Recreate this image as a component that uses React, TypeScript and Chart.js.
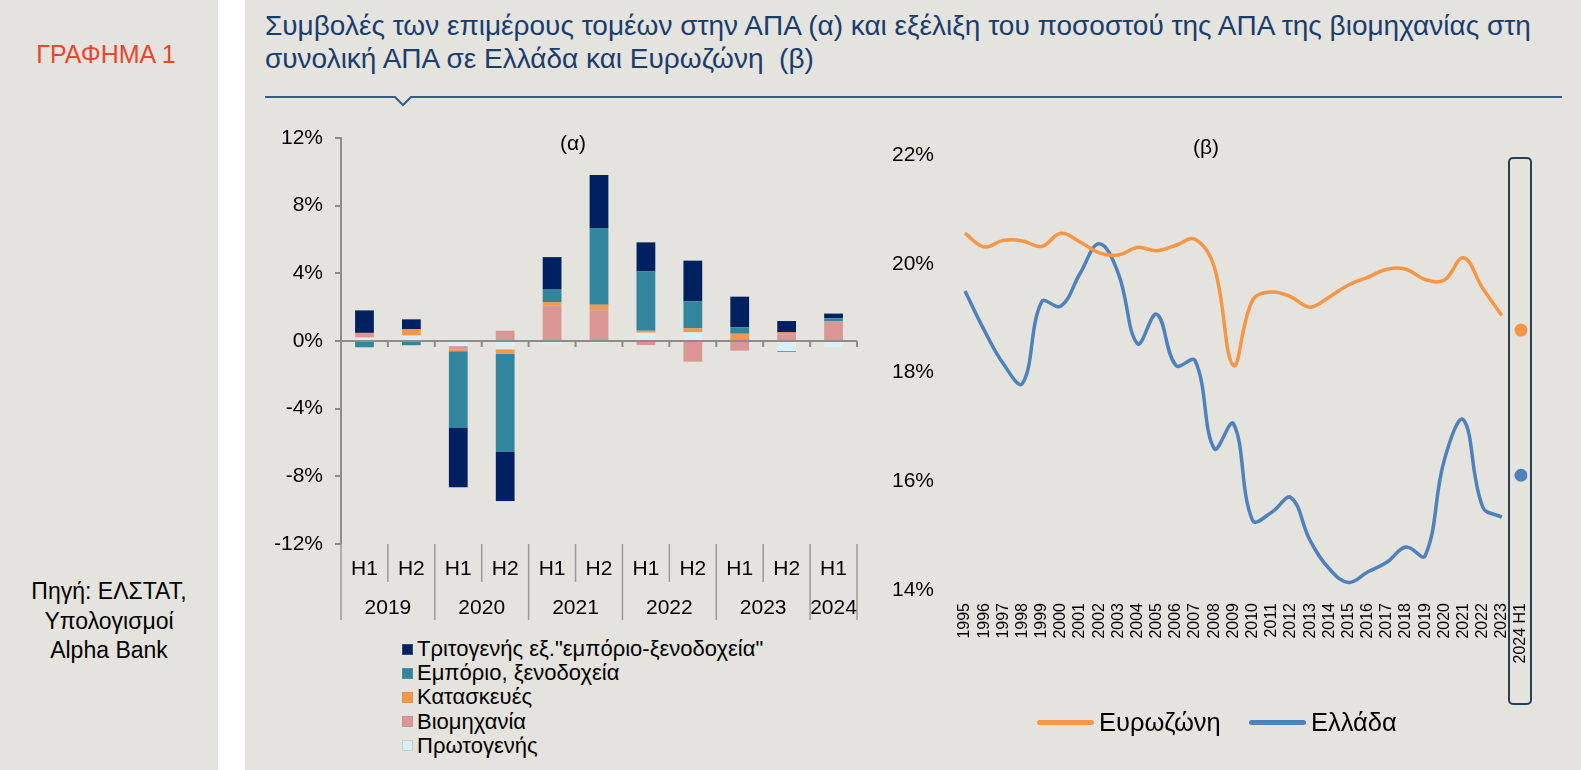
import React, { useEffect, useRef } from 'react';
import { Chart, registerables } from 'chart.js';

Chart.register(...registerables);

const FONT = '"Liberation Sans", Arial, Helvetica, sans-serif';
const BG = '#e4e3de';

// ---------- Chart (α): contributions ----------
const halfYearLabels = ['H1', 'H2', 'H1', 'H2', 'H1', 'H2', 'H1', 'H2', 'H1', 'H2', 'H1'];
const yearLabels = ['2019', '2020', '2021', '2022', '2023', '2024'];
const yearSpans = [2, 2, 2, 2, 2, 1];
const leftTicks = [-12, -8, -4, 0, 4, 8, 12];

const sectorLabels = [
  'Πρωτογενής',
  'Βιομηχανία',
  'Κατασκευές',
  'Εμπόριο, ξενοδοχεία',
  'Τριτογενής εξ."εμπόριο-ξενοδοχεία"',
];
const sectorColors = ['#dbeef4', '#d99694', '#f79646', '#31859c', '#002060'];

const primarySector = [0.2, 0.32, -0.3, -0.49, -0.2, -0.12, 0.49, 0.51, 0, -0.6, -0.37];
const industry = [0.28, 0, -0.22, 0.61, 2.1, 1.81, -0.24, -1.22, -0.57, 0.39, 1.16];
const construction = [0, 0.37, -0.08, -0.26, 0.18, 0.34, 0.12, 0.24, 0.43, 0.12, 0];
const tradeHotels = [-0.37, -0.25, -4.55, -5.81, 0.76, 4.53, 3.51, 1.59, 0.38, -0.05, 0.18];
const otherServices = [1.33, 0.59, -3.49, -2.9, 1.92, 3.13, 1.71, 2.41, 1.81, 0.67, 0.28];
const sectorSeries = [primarySector, industry, construction, tradeHotels, otherServices];

// ---------- Chart (β): industry share of GVA ----------
const yearCats = [
  '1995', '1996', '1997', '1998', '1999', '2000', '2001', '2002', '2003', '2004',
  '2005', '2006', '2007', '2008', '2009', '2010', '2011', '2012', '2013', '2014',
  '2015', '2016', '2017', '2018', '2019', '2020', '2021', '2022', '2023', '2024 H1',
];
const eurozoneShare = [
  20.56, 20.31, 20.43, 20.42, 20.32, 20.56, 20.4, 20.2, 20.16, 20.3,
  20.24, 20.34, 20.45, 19.94, 18.13, 19.33, 19.48, 19.39, 19.2, 19.39,
  19.61, 19.75, 19.9, 19.9, 19.71, 19.7, 20.11, 19.55, 19.05,
];
const greeceShare = [
  19.5, 18.78, 18.16, 17.8, 19.3, 19.22, 19.82, 20.37, 19.82, 18.53,
  19.07, 18.13, 18.22, 16.6, 17.06, 15.28, 15.43, 15.7, 14.91, 14.39,
  14.14, 14.33, 14.51, 14.79, 14.63, 16.39, 17.13, 15.53, 15.34,
];
const eurozoneH1 = 18.78;
const greeceH1 = 16.11;
const rightTicks = [14, 16, 18, 20, 22];
const lineLabels = ['Ευρωζώνη', 'Ελλάδα'];
const lineColors = ['#f79646', '#4f81bd'];

const leftDecor = {
  id: 'leftDecor',
  afterDatasetsDraw(chart: any) {
    const { ctx, chartArea: ca, scales } = chart;
    const xs = scales.x;
    const ys = scales.y;
    const y0 = ys.getPixelForValue(0);
    const step = xs.getPixelForValue(1) - xs.getPixelForValue(0);
    const n = halfYearLabels.length;
    const bound = (i: number) => xs.getPixelForValue(0) - step / 2 + i * step;
    ctx.save();
    ctx.strokeStyle = '#8c8c8c';
    ctx.lineWidth = 2;
    ctx.beginPath();
    ctx.moveTo(ca.left, y0);
    ctx.lineTo(bound(n), y0);
    for (let i = 1; i <= n; i++) {
      ctx.moveTo(bound(i), y0);
      ctx.lineTo(bound(i), y0 + 6);
    }
    ctx.stroke();

    const top = ca.bottom;
    ctx.lineWidth = 1.5;
    ctx.strokeStyle = '#9a9a9a';
    ctx.beginPath();
    for (let i = 1; i < n; i++) {
      ctx.moveTo(bound(i), top);
      ctx.lineTo(bound(i), top + 38);
    }
    const yb = [0];
    let acc = 0;
    yearSpans.forEach((s) => {
      acc += s;
      yb.push(acc);
    });
    yb.forEach((k) => {
      ctx.moveTo(bound(k), top);
      ctx.lineTo(bound(k), top + 76);
    });
    ctx.stroke();

    ctx.fillStyle = '#000';
    ctx.font = `21px ${FONT}`;
    ctx.textAlign = 'center';
    ctx.textBaseline = 'middle';
    halfYearLabels.forEach((l, i) => ctx.fillText(l, xs.getPixelForValue(i), top + 25));
    yearLabels.forEach((l, g) => ctx.fillText(l, (bound(yb[g]) + bound(yb[g + 1])) / 2, top + 64));
    ctx.restore();
  },
};

const rightDecor = {
  id: 'rightDecor',
  beforeDatasetsDraw(chart: any) {
    const { ctx, scales } = chart;
    const xs = scales.x;
    const x = xs.getPixelForValue(yearCats.length - 1);
    ctx.save();
    ctx.strokeStyle = '#2b3c57';
    ctx.lineWidth = 2;
    ctx.beginPath();
    if (ctx.roundRect) ctx.roundRect(x - 12, 38, 22, 546, 4);
    else ctx.rect(x - 12, 38, 22, 546);
    ctx.stroke();
    ctx.restore();
  },
};

export default function App() {
  const leftRef = useRef<HTMLCanvasElement | null>(null);
  const rightRef = useRef<HTMLCanvasElement | null>(null);

  useEffect(() => {
    document.body.style.margin = '0';
    const left = new Chart(leftRef.current as HTMLCanvasElement, {
      type: 'bar',
      data: {
        labels: halfYearLabels,
        datasets: sectorSeries.map((d, i) => ({
          label: sectorLabels[i],
          data: d,
          backgroundColor: sectorColors[i],
          borderWidth: 0,
          barPercentage: 0.4,
          categoryPercentage: 1,
        })),
      },
      options: {
        animation: false,
        responsive: false,
        maintainAspectRatio: false,
        layout: { padding: { top: 38, right: 8, bottom: 86, left: 0 } },
        plugins: { legend: { display: false }, tooltip: { enabled: false } },
        scales: {
          x: { display: false, stacked: true },
          y: {
            stacked: true,
            min: -12,
            max: 12,
            afterBuildTicks: (s: any) => {
              s.ticks = leftTicks.map((v) => ({ value: v }));
            },
            afterFit: (s: any) => {
              s.width = 96;
              s.paddingTop = 0;
              s.paddingBottom = 0;
            },
            ticks: {
              callback: (v: any) => v + '%',
              font: { size: 21, family: FONT },
              color: '#000',
              padding: 12,
            },
            grid: {
              drawOnChartArea: false,
              drawTicks: true,
              tickLength: 6,
              tickColor: '#8c8c8c',
              lineWidth: 2,
            },
            border: { color: '#8c8c8c', width: 2 },
          },
        },
      },
      plugins: [leftDecor],
    } as any);

    const lastIdx = yearCats.length - 1;
    const right = new Chart(rightRef.current as HTMLCanvasElement, {
      type: 'line',
      data: {
        labels: yearCats,
        datasets: [
          {
            label: lineLabels[0],
            data: eurozoneShare,
            borderColor: lineColors[0],
            backgroundColor: lineColors[0],
            borderWidth: 3.5,
            tension: 0.4,
            pointRadius: 0,
            fill: false,
          },
          {
            label: lineLabels[1],
            data: greeceShare,
            borderColor: lineColors[1],
            backgroundColor: lineColors[1],
            borderWidth: 3.5,
            tension: 0.4,
            pointRadius: 0,
            fill: false,
          },
          {
            label: lineLabels[0] + ' ' + yearCats[lastIdx],
            data: yearCats.map((_, i) => (i === lastIdx ? eurozoneH1 : null)),
            showLine: false,
            pointRadius: 6.5,
            pointBackgroundColor: lineColors[0],
            pointBorderWidth: 0,
          },
          {
            label: lineLabels[1] + ' ' + yearCats[lastIdx],
            data: yearCats.map((_, i) => (i === lastIdx ? greeceH1 : null)),
            showLine: false,
            pointRadius: 6.5,
            pointBackgroundColor: lineColors[1],
            pointBorderWidth: 0,
          },
        ],
      },
      options: {
        animation: false,
        responsive: false,
        maintainAspectRatio: false,
        layout: { padding: { top: 35, right: 49, bottom: 0, left: 0 } },
        plugins: { legend: { display: false }, tooltip: { enabled: false } },
        scales: {
          x: {
            offset: false,
            grid: { display: false, drawTicks: false },
            border: { display: false },
            afterFit: (s: any) => {
              s.height = 130;
            },
            ticks: {
              autoSkip: false,
              minRotation: 90,
              maxRotation: 90,
              font: { size: 16, family: FONT },
              color: '#000',
              padding: 13,
            },
          },
          y: {
            min: 14,
            max: 22,
            afterBuildTicks: (s: any) => {
              s.ticks = rightTicks.map((v) => ({ value: v }));
            },
            afterFit: (s: any) => {
              s.width = 95;
              s.paddingTop = 0;
              s.paddingBottom = 0;
            },
            grid: { display: false, drawTicks: false },
            border: { display: false },
            ticks: {
              callback: (v: any) => v + '%',
              font: { size: 21, family: FONT },
              color: '#000',
              padding: 31,
            },
          },
        },
      },
      plugins: [rightDecor],
    } as any);

    return () => {
      left.destroy();
      right.destroy();
    };
  }, []);

  const centered = (cx: number, cy: number): React.CSSProperties => ({
    position: 'absolute',
    left: cx,
    top: cy,
    transform: 'translate(-50%, -50%)',
    lineHeight: 1,
    whiteSpace: 'nowrap',
  });

  const legendOrder = [4, 3, 2, 1, 0];

  return (
    <div
      style={{
        position: 'relative',
        width: 1581,
        height: 770,
        background: BG,
        fontFamily: FONT,
        overflow: 'hidden',
        color: '#000',
      }}
    >
      <div style={{ position: 'absolute', left: 218, top: 0, width: 27, height: 770, background: '#ffffff' }} />
      <div style={{ ...centered(106, 54), color: '#e8472f', fontSize: 25 }}>ΓΡΑΦΗΜΑ 1</div>
      <div
        style={{
          position: 'absolute',
          left: 0,
          top: 577,
          width: 218,
          textAlign: 'center',
          fontSize: 23,
          lineHeight: '29.5px',
        }}
      >
        Πηγή: ΕΛΣΤΑΤ,
        <br />
        Υπολογισμοί
        <br />
        Alpha Bank
      </div>
      <div
        style={{
          position: 'absolute',
          left: 265,
          top: 9,
          fontSize: 28,
          lineHeight: '33px',
          color: '#1b3d6e',
          whiteSpace: 'nowrap',
        }}
      >
        Συμβολές των επιμέρους τομέων στην ΑΠΑ (α) και εξέλιξη του ποσοστού της ΑΠΑ της βιομηχανίας στη
        <br />
        συνολική ΑΠΑ σε Ελλάδα και Ευρωζώνη&nbsp; (β)
      </div>
      <svg style={{ position: 'absolute', left: 0, top: 0 }} width={1581} height={120}>
        <polyline
          points="265,97 395,97 403,105 411,97 1562,97"
          fill="none"
          stroke="#3b5a8c"
          strokeWidth={2}
        />
      </svg>

      <canvas
        ref={leftRef}
        width={620}
        height={530}
        style={{ position: 'absolute', left: 245, top: 100, width: 620, height: 530 }}
      />
      <div style={{ ...centered(573, 142), fontSize: 21 }}>(α)</div>

      <canvas
        ref={rightRef}
        width={700}
        height={600}
        style={{ position: 'absolute', left: 870, top: 120, width: 700, height: 600 }}
      />
      <div style={{ ...centered(1206, 146), fontSize: 21 }}>(β)</div>

      {legendOrder.map((k, r) => (
        <div
          key={k}
          style={{
            position: 'absolute',
            left: 402,
            top: 637 + r * 24.2,
            height: 24.2,
            display: 'flex',
            alignItems: 'center',
            fontSize: 22,
            whiteSpace: 'nowrap',
          }}
        >
          <span
            style={{
              display: 'inline-block',
              width: 11,
              height: 11,
              background: sectorColors[k],
              boxSizing: 'border-box',
              border: '1px solid rgba(150,150,150,0.35)',
              marginRight: 4,
            }}
          />
          <span>{sectorLabels[k]}</span>
        </div>
      ))}

      {lineLabels.map((l, i) => (
        <div
          key={l}
          style={{
            position: 'absolute',
            left: i === 0 ? 1037 : 1249,
            top: 707,
            height: 30,
            display: 'flex',
            alignItems: 'center',
            fontSize: 25.5,
            whiteSpace: 'nowrap',
          }}
        >
          <span
            style={{
              display: 'inline-block',
              width: 57,
              height: 5,
              borderRadius: 3,
              background: lineColors[i],
              marginRight: 5,
            }}
          />
          <span>{l}</span>
        </div>
      ))}
    </div>
  );
}
